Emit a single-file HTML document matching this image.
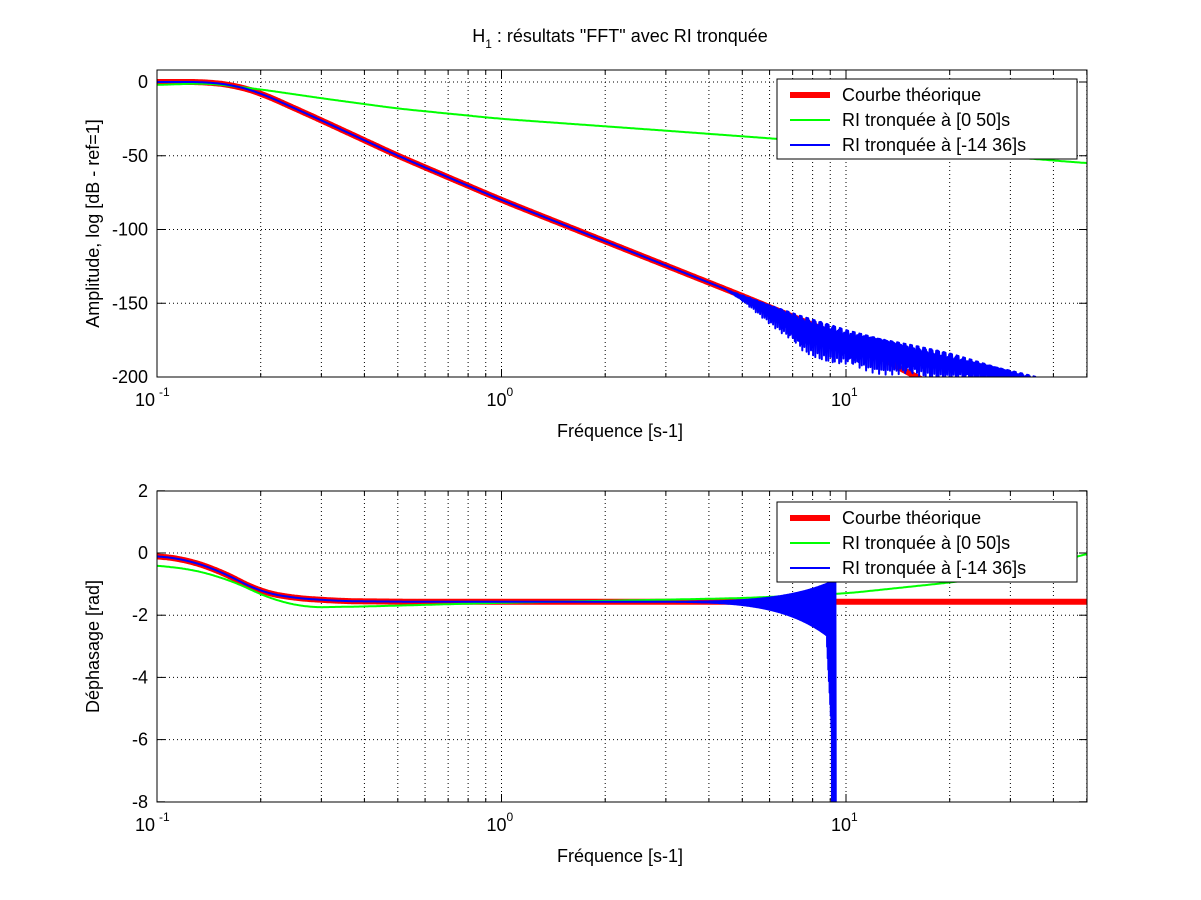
<!DOCTYPE html>
<html><head><meta charset="utf-8"><style>
body{margin:0;background:#fff}
svg{display:block;font-family:"Liberation Sans",Arial,sans-serif}
</style></head><body>
<svg id="s" width="1201" height="900" viewBox="0 0 1201 900" xmlns="http://www.w3.org/2000/svg"></svg>
<script>
const S=document.getElementById('s');
let h='<rect width="1201" height="900" fill="#fff"/>';
const X0=157,X1=1087,DEC=344.5;
const fx=f=>X0+(Math.log10(f)+1)*DEC;
function lerpLog(pts,f){const l=Math.log10(f);
 for(let i=0;i<pts.length-1;i++){const a=Math.log10(pts[i][0]),b=Math.log10(pts[i+1][0]);
  if(l>=a&&l<=b){const t=(l-a)/(b-a);return pts[i][1]+(pts[i+1][1]-pts[i][1])*t;}}
 return pts[pts.length-1][1];}
function smooth(fn,f){let s=0;for(let k=-4;k<=4;k++)s+=fn(f*Math.pow(10,k*0.012));return s/9;}
function axes(T,B,ymap,yt,xlabel,ylabel){
 for(let d=-1;d<=1;d++)for(let m=1;m<=9;m++){const f=m*Math.pow(10,d);if(f>50)break;const x=fx(f);
  if(x<=X0+1)continue;h+=`<line x1="${x}" y1="${T}" x2="${x}" y2="${B}" stroke="#000" stroke-width="1" stroke-dasharray="1,3"/>`;
  const tl=m==1?8:4;h+=`<line x1="${x}" y1="${B}" x2="${x}" y2="${B-tl}" stroke="#000"/><line x1="${x}" y1="${T}" x2="${x}" y2="${T+tl}" stroke="#000"/>`;}
 for(const v of yt){const y=ymap(v);if(y>T+1&&y<B-1)h+=`<line x1="${X0}" y1="${y}" x2="${X1}" y2="${y}" stroke="#000" stroke-dasharray="1,3"/>`;
  h+=`<line x1="${X0}" y1="${y}" x2="${X0+8}" y2="${y}" stroke="#000"/><line x1="${X1}" y1="${y}" x2="${X1-8}" y2="${y}" stroke="#000"/>`;
  h+=`<text x="${X0-9}" y="${y+6}" font-size="18" text-anchor="end">${v}</text>`;}
 h+=`<text x="${X0-22}" y="${B+29}" font-size="18">10</text><text x="${X0+2}" y="${B+19}" font-size="12">-1</text>`;
 h+=`<text x="${fx(1)-15}" y="${B+29}" font-size="18">10</text><text x="${fx(1)+5}" y="${B+19}" font-size="12">0</text>`;
 h+=`<text x="${fx(10)-15}" y="${B+29}" font-size="18">10</text><text x="${fx(10)+5}" y="${B+19}" font-size="12">1</text>`;
 h+=`<text x="620" y="${B+60}" font-size="18" text-anchor="middle">${xlabel}</text>`;
 h+=`<text transform="translate(99,${(T+B)/2}) rotate(-90)" font-size="18" text-anchor="middle">${ylabel}</text>`;
}
function poly(pts,col,w,clip){return `<polyline clip-path="url(#${clip})" points="${pts.map(p=>p[0].toFixed(1)+','+p[1].toFixed(1)).join(' ')}" fill="none" stroke="${col}" stroke-width="${w}" stroke-linejoin="round"/>`;}
function legend(T){
 const L=777,R=1077;h+=`<rect x="${L}" y="${T}" width="${R-L}" height="80" fill="#fff" stroke="#000"/>`;
 const it=[["Courbe théorique","#f00",6],["RI tronquée à [0 50]s","#0f0",2],["RI tronquée à [-14 36]s","#00f",2]];
 it.forEach((a,i)=>{const y=T+16+i*25;h+=`<line x1="790" y1="${y}" x2="830" y2="${y}" stroke="${a[1]}" stroke-width="${a[2]}"/><text x="842" y="${y+6}" font-size="18">${a[0]}</text>`;});
}
h+=`<defs><clipPath id="c1"><rect x="${X0}" y="70" width="${X1-X0}" height="307"/></clipPath><clipPath id="c2"><rect x="${X0}" y="491" width="${X1-X0}" height="311"/></clipPath></defs>`;
// ---- top
const T1=70,B1=377,y1=v=>82-v*1.475;
axes(T1,B1,y1,[0,-50,-100,-150,-200],"Fréquence [s-1]","Amplitude, log [dB - ref=1]");
const N=900;const fs=[];for(let i=0;i<=N;i++)fs.push(Math.pow(10,-1+i/N*Math.log10(500)));
const rp=[[0.08,0],[0.14,0],[0.17,-2.5],[0.2,-7.5],[0.3,-26],[0.5,-50],[1,-80],[5,-145],[10,-174],[16,-200],[100,-290]];
const red=f=>smooth(g=>lerpLog(rp,g),f);
const gp=[[0.08,-2],[0.1,-2],[0.14,-0.8],[0.2,-5],[0.3,-11],[0.5,-18],[1,-25],[3,-33],[10,-42],[50,-55],[60,-56]];
h+=poly(fs.map(f=>[fx(f),y1(red(f))]),"#f00",6,"c1");
h+=poly(fs.map(f=>[fx(f),y1(smooth(g=>lerpLog(gp,g),f))]),"#0f0",2,"c1");
let bp=[];const M=3000;
const bt=[[4.5,-141],[10,-166],[20,-182],[40,-201],[60,-210]];
for(let i=0;i<=M;i++){const f=Math.pow(10,-1+i/M*Math.log10(500));let v=red(f);
 if(f>4.5){const top=lerpLog(bt,f);const k=Math.min(1,(f-4.5)/3);
  const dep=(f<11?k*22:Math.max(6,22-(f-11)*0.8));const ph=Math.abs(Math.sin(i*0.9));
  v=top-4*k-dep*Math.pow(ph,8)+2*Math.sin(i*2.1)*k;}
 bp.push([fx(f),y1(v)]);}
h+=poly(bp,"#00f",2,"c1");
h+=`<rect x="${X0}" y="${T1}" width="${X1-X0}" height="${B1-T1}" fill="none" stroke="#000"/>`;
legend(79);
// ---- bottom
const T2=491,B2=802,y2=v=>553-v*31.1;
axes(T2,B2,y2,[2,0,-2,-4,-6,-8],"Fréquence [s-1]","Déphasage [rad]");
const rpp=[[0.08,-0.05],[0.1,-0.1],[0.12,-0.2],[0.15,-0.55],[0.2,-1.25],[0.25,-1.45],[0.35,-1.55],[0.6,-1.57],[60,-1.57]];
const rph=f=>smooth(g=>lerpLog(rpp,g),f);
const gph=[[0.08,-0.35],[0.1,-0.4],[0.13,-0.55],[0.17,-0.95],[0.21,-1.45],[0.27,-1.75],[0.4,-1.72],[1,-1.6],[3,-1.5],[5,-1.45],[10,-1.3],[20,-0.95],[35,-0.6],[50,0],[60,0.1]];
h+=poly(fs.map(f=>[fx(f),y2(rph(f))]),"#f00",6,"c2");
h+=poly(fs.map(f=>[fx(f),y2(smooth(g=>lerpLog(gph,g),f))]),"#0f0",2,"c2");
bp=[];
for(let i=0;i<=M;i++){const f=Math.pow(10,-1+i/M*Math.log10(500));if(f>9.35)break;let v=rph(f);
 if(f>3){const a=Math.pow((f-3)/6.3,2.2);const s=(i%2?1:-1);
  v=s>0?-1.57+a*0.7:-1.57-a*1.3;
  if(s<0&&f>8.8)v=-2.9-(f-8.8)*10;
  if(s<0&&f>9.1)v=-9;}
 bp.push([fx(f),y2(v)]);}
bp.push([fx(9.35),y2(-9)]);
h+=poly(bp,"#00f",2,"c2");
h+=`<rect x="${X0}" y="${T2}" width="${X1-X0}" height="${B2-T2}" fill="none" stroke="#000"/>`;
legend(502);
h+=`<text x="620" y="42" font-size="18" text-anchor="middle">H<tspan font-size="12" dy="6">1</tspan><tspan dy="-6"> : résultats "FFT" avec RI tronquée</tspan></text>`;
S.innerHTML=h;
</script>
</body></html>
